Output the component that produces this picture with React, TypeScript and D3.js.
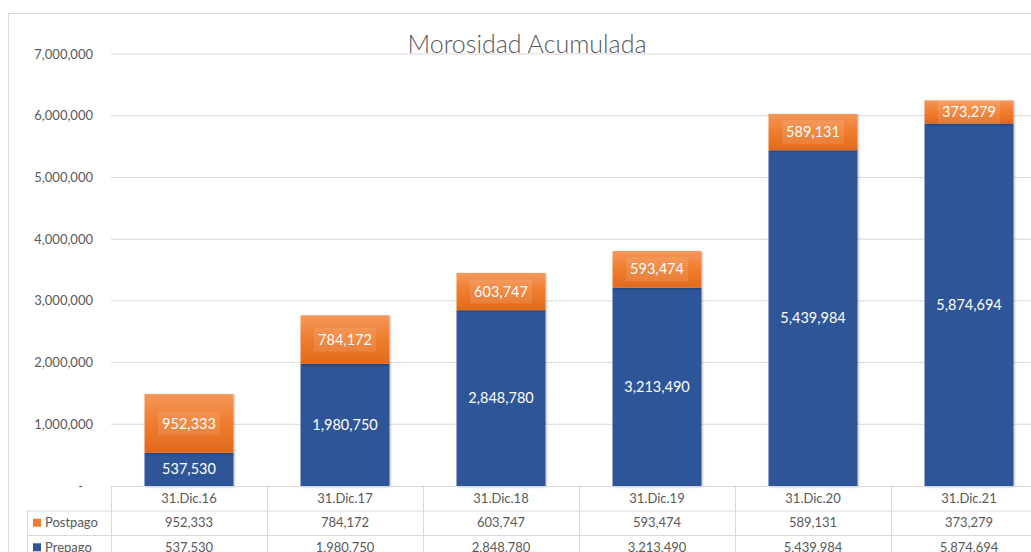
import React from 'react';
import * as d3 from 'd3';

// chart data
const categories = ['31.Dic.16', '31.Dic.17', '31.Dic.18', '31.Dic.19', '31.Dic.20', '31.Dic.21'];
const prepago = [537530, 1980750, 2848780, 3213490, 5439984, 5874694];
const postpago = [952333, 784172, 603747, 593474, 589131, 373279];
const seriesNames = ['Postpago', 'Prepago'];
const yTicks = [0, 1000000, 2000000, 3000000, 4000000, 5000000, 6000000, 7000000];

const BLUE = '#2F5597';
const ORANGE = '#EE7B30';
const GRID = '#d9d9d9';
const TXT = '#595959';
const FONT = 'Lato, "Open Sans", sans-serif';

export default function App() {
    const width = 1031;
    const height = 552;
    const left = 111, right = 1047;
    const top = 54, bottom = 486;

    const x = d3.scaleBand<string>()
        .domain(categories)
        .range([left, right])
        .paddingInner(0.43)
        .paddingOuter(0.215);
    const step = x.step();

    const y = d3.scaleLinear().domain([0, 7000000]).range([bottom, top]);

    const rows = categories.map((c, i) => ({ cat: c, pre: prepago[i], post: postpago[i] }));
    const stack = d3.stack<any>().keys(['pre', 'post'])(rows);

    const fmt = d3.format(',');
    const rowH = 24.5;
    const colEdges = categories.map((c) => (x(c) as number) - (step - x.bandwidth()) / 2);

    return (
        <svg width={width} height={height} style={{ position: 'absolute', left: 0, top: 0 }}>
            <defs>
                <linearGradient id="og" x1="0" y1="0" x2="0" y2="1">
                    <stop offset="0" stopColor="#F4975A" />
                    <stop offset="0.45" stopColor="#F07F31" />
                    <stop offset="1" stopColor="#E2691C" />
                </linearGradient>
                <filter id="sh" x="-10%" y="-10%" width="130%" height="130%">
                    <feDropShadow dx="1" dy="1" stdDeviation="1.2" floodColor="#000" floodOpacity="0.3" />
                </filter>
            </defs>
            <rect x={0} y={0} width={width} height={height} fill="#fff" />
            <rect x={8.5} y={13.5} width={1100} height={600} fill="#fff" stroke={GRID} strokeWidth={1} />

            {/* gridlines and y axis labels */}
            {yTicks.map((t) => (
                <g key={t}>
                    {t > 0 && <line x1={left} x2={width} y1={y(t)} y2={y(t)} stroke={GRID} strokeWidth={1} />}
                    <text x={t > 0 ? 93 : 83} y={y(t)} dy="0.35em" textAnchor="end"
                        fontFamily={FONT} fontSize={13} fill={TXT}>
                        {t > 0 ? fmt(t) : '-'}
                    </text>
                </g>
            ))}

            <text x={527} y={53} textAnchor="middle" fontFamily={FONT} fontSize={25} fontWeight={300} fill={TXT}>
                Morosidad Acumulada
            </text>

            {/* bars */}
            {stack.map((s, si) => (
                <g key={s.key}>
                    {s.map((d, i) => {
                        const x0 = x(categories[i]) as number;
                        const y0 = y(d[1]);
                        const h = y(d[0]) - y(d[1]);
                        return (
                            <rect key={i} x={x0} y={y0} width={x.bandwidth()} height={h}
                                fill={si === 0 ? BLUE : 'url(#og)'} filter="url(#sh)" />
                        );
                    })}
                </g>
            ))}

            {/* data labels */}
            {stack.map((s, si) => (
                <g key={'l' + s.key}>
                    {s.map((d, i) => {
                        const cx = (x(categories[i]) as number) + x.bandwidth() / 2;
                        const cy = (y(d[0]) + y(d[1])) / 2;
                        const v = d[1] - d[0];
                        return (
                            <g key={i}>
                                {si === 1 && (
                                    <rect x={cx - 31} y={cy - 12} width={62} height={24}
                                        fill="#fff" fillOpacity={0.1} />
                                )}
                                <text x={cx} y={cy} dy="0.35em" textAnchor="middle"
                                    fontFamily={FONT} fontSize={14.5} fill="#fff">
                                    {fmt(v)}
                                </text>
                            </g>
                        );
                    })}
                </g>
            ))}

            {/* data table */}
            <g stroke={GRID} strokeWidth={1}>
                <line x1={left} x2={width} y1={bottom + 0.5} y2={bottom + 0.5} />
                <line x1={27} x2={width} y1={bottom + rowH + 0.5} y2={bottom + rowH + 0.5} />
                <line x1={27} x2={width} y1={bottom + 2 * rowH + 0.5} y2={bottom + 2 * rowH + 0.5} />
                <line x1={27.5} x2={27.5} y1={bottom + rowH} y2={height} />
                {colEdges.map((e, i) => (
                    <line key={i} x1={Math.round(e) + 0.5} x2={Math.round(e) + 0.5} y1={bottom} y2={height} />
                ))}
                <line x1={right - 0.5} x2={right - 0.5} y1={bottom} y2={height} />
            </g>
            {categories.map((c) => {
                const cx = (x(c) as number) + x.bandwidth() / 2;
                return (
                    <g key={c} fontFamily={FONT} fontSize={13} fill={TXT} textAnchor="middle">
                        <text x={cx} y={bottom + rowH / 2} dy="0.35em">{c}</text>
                    </g>
                );
            })}
            {[postpago, prepago].map((arr, ri) => (
                <g key={ri} fontFamily={FONT} fontSize={13} fill={TXT}>
                    <rect x={33} y={bottom + (ri + 1) * rowH + rowH / 2 - 4} width={8} height={8}
                        fill={ri === 0 ? ORANGE : BLUE} />
                    <text x={45} y={bottom + (ri + 1) * rowH + rowH / 2} dy="0.35em">{seriesNames[ri]}</text>
                    {arr.map((v, i) => (
                        <text key={i} x={(x(categories[i]) as number) + x.bandwidth() / 2}
                            y={bottom + (ri + 1) * rowH + rowH / 2} dy="0.35em" textAnchor="middle">
                            {fmt(v)}
                        </text>
                    ))}
                </g>
            ))}
        </svg>
    );
}
